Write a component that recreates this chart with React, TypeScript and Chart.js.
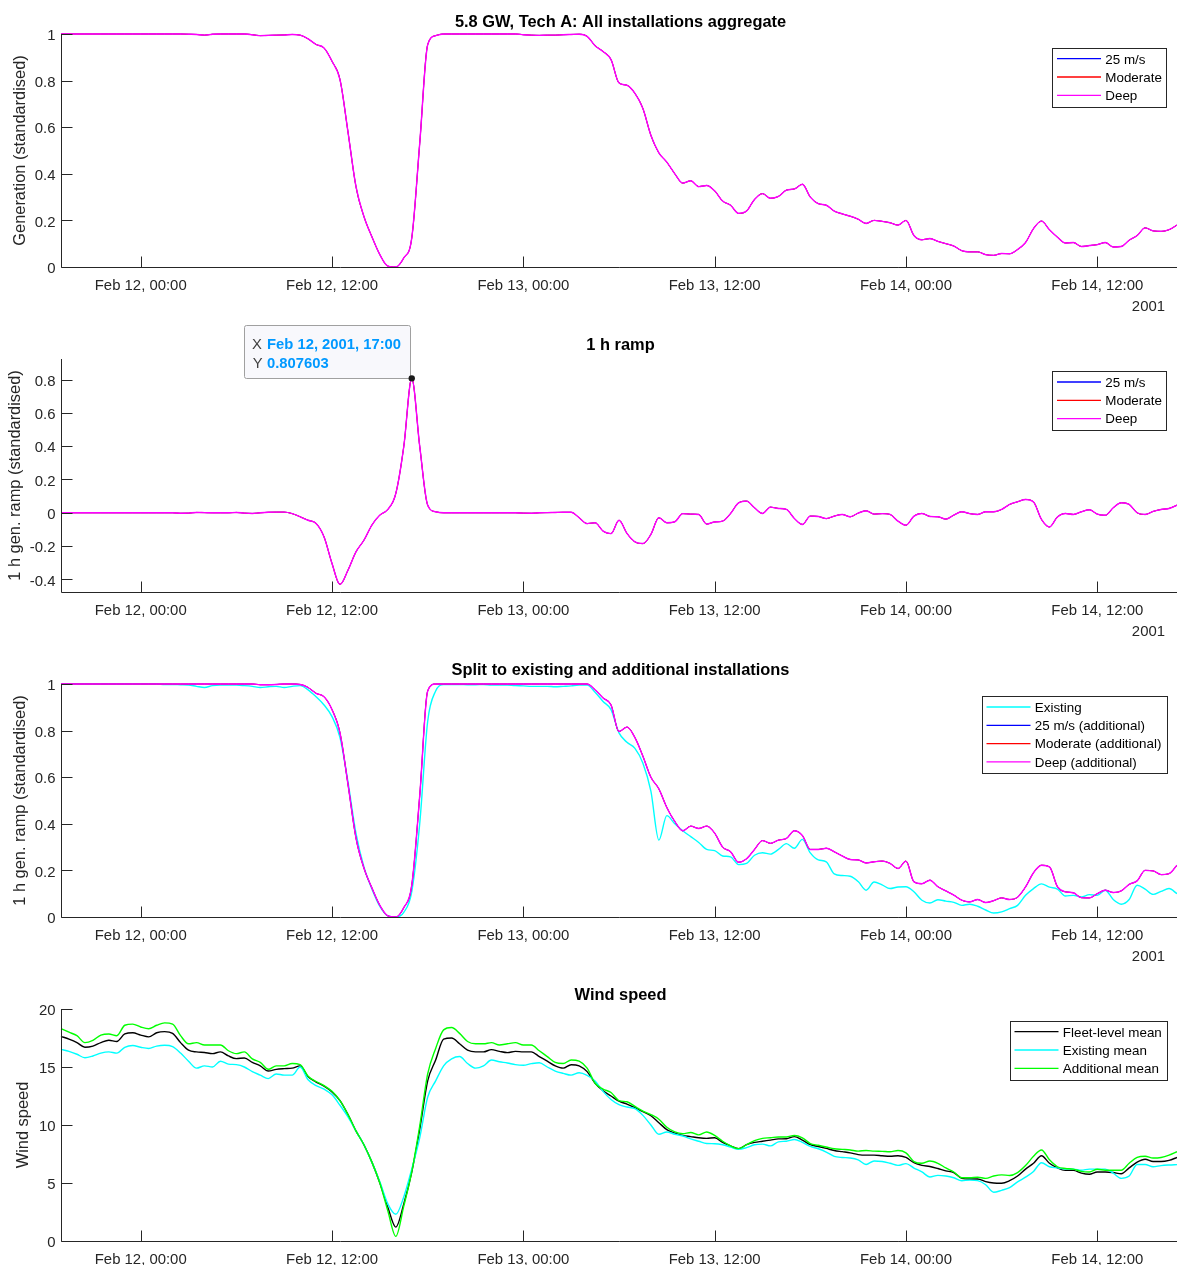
import React, { useEffect, useRef } from "react";
import { Chart, registerables } from "chart.js";

Chart.register(...registerables);

// ---- time base: half-hourly samples from Feb 11, 2001 19:00 ----
const START_UTC = Date.UTC(2001, 1, 11, 19, 0);
const STEP_HOURS = 0.5;
const X_MAX_HOURS = 70;
const X_TICK_HOURS = [5, 17, 29, 41, 53, 65];
const MONTHS = ["Jan", "Feb", "Mar", "Apr", "May", "Jun", "Jul", "Aug", "Sep", "Oct", "Nov", "Dec"];

// ---- standardised generation, all installations (the three scenarios coincide) ----
const genAggregate = [
  1, 1, 1, 1, 1, 1, 1, 1, 1, 1,
  1, 1, 1, 1, 1, 1, 0.999, 0.998, 0.995, 0.999,
  1, 1, 1, 1, 0.997, 0.993, 0.994, 0.995, 0.996, 0.998,
  0.995, 0.979, 0.955, 0.94, 0.883, 0.804, 0.58, 0.346, 0.217, 0.13,
  0.053, 0.004, 0, 0.039, 0.124, 0.53, 0.954, 0.993, 1, 1,
  1, 1, 1, 1, 1, 1, 1, 1, 0.997, 0.995,
  0.994, 0.995, 0.995, 0.997, 0.998, 0.999, 0.99, 0.95, 0.925, 0.89,
  0.79, 0.78, 0.745, 0.68, 0.565, 0.49, 0.45, 0.4, 0.36, 0.37,
  0.345, 0.35, 0.327, 0.283, 0.265, 0.23, 0.24, 0.29, 0.315, 0.295,
  0.303, 0.33, 0.335, 0.355, 0.3, 0.272, 0.265, 0.24, 0.228, 0.218,
  0.205, 0.187, 0.2, 0.196, 0.19, 0.18, 0.2, 0.135, 0.117, 0.122,
  0.11, 0.1, 0.09, 0.07, 0.065, 0.065, 0.053, 0.05, 0.058, 0.057,
  0.075, 0.105, 0.165, 0.197, 0.16, 0.128, 0.103, 0.105, 0.088, 0.092,
  0.096, 0.105, 0.086, 0.088, 0.115, 0.135, 0.168, 0.155, 0.153, 0.16,
  0.18,
];

// ---- 1 h generation ramp (standardised) ----
const rampAggregate = [
  0, 0, 0, 0, 0, 0, 0, 0, 0, 0,
  0, 0, 0, 0, 0, -0.003, -0.002, 0.002, 0.001, 0,
  0, 0, 0.002, -0.002, -0.004, 0, 0.003, 0.004, 0.004, -0.005,
  -0.024, -0.045, -0.064, -0.145, -0.305, -0.43, -0.345, -0.235, -0.165, -0.074,
  -0.014, 0.02, 0.116, 0.398, 0.807603, 0.4, 0.046, 0.006, 0, 0,
  0, 0, 0, 0, 0, 0, 0, 0, -0.002, -0.003,
  0, 0.001, 0.002, 0.003, 0.003, -0.03, -0.065, -0.06, -0.11, -0.125,
  -0.045, -0.124, -0.175, -0.185, -0.13, -0.03, -0.06, -0.054, -0.005, -0.008,
  -0.01, -0.068, -0.055, -0.05, -0.004, 0.06, 0.07, 0.03, -0.004, 0.034,
  0.026, 0.02, -0.034, -0.07, -0.02, -0.022, -0.035, -0.02, -0.01, -0.024,
  -0.002, 0.012, -0.008, -0.005, -0.01, -0.05, -0.075, -0.02, -0.004, -0.022,
  -0.024, -0.038, -0.014, 0.006, -0.005, -0.01, 0.006, 0.006, 0.02, 0.05,
  0.066, 0.08, 0.065, -0.04, -0.085, -0.025, -0.004, -0.01, 0.006, 0.018,
  -0.008, -0.015, 0.03, 0.06, 0.05, 0, -0.01, 0.008, 0.02, 0.026,
  0.046,
];

// ---- generation split: existing fleet ----
const genExisting = [
  1, 1, 1, 1, 1, 1, 1, 1, 1, 1,
  1, 1, 1, 0.998, 0.998, 0.997, 0.996, 0.99, 0.985, 0.993,
  0.995, 0.995, 0.995, 0.993, 0.99, 0.985, 0.988, 0.99, 0.985, 0.99,
  0.993, 0.975, 0.945, 0.91, 0.86, 0.77, 0.58, 0.36, 0.215, 0.12,
  0.045, 0.005, 0, 0.02, 0.108, 0.4, 0.84, 0.97, 0.998, 0.998,
  0.998, 0.997, 0.997, 0.998, 0.995, 0.996, 0.995, 0.993, 0.992, 0.99,
  0.99, 0.99, 0.988, 0.99, 0.992, 0.995, 0.995, 0.965, 0.925, 0.89,
  0.79, 0.75, 0.724, 0.66, 0.54, 0.33, 0.435, 0.4, 0.37, 0.345,
  0.32, 0.29, 0.285, 0.262, 0.258, 0.225, 0.23, 0.265, 0.276, 0.27,
  0.29, 0.315, 0.295, 0.333, 0.275, 0.245, 0.237, 0.185, 0.178, 0.175,
  0.152, 0.115, 0.15, 0.138, 0.122, 0.129, 0.13, 0.108, 0.072, 0.06,
  0.074, 0.068, 0.063, 0.05, 0.055, 0.046, 0.03, 0.017, 0.022, 0.036,
  0.05, 0.093, 0.122, 0.142, 0.128, 0.12, 0.09, 0.093, 0.086, 0.096,
  0.093, 0.115, 0.075, 0.055, 0.075, 0.136, 0.12, 0.097, 0.11, 0.122,
  0.1,
];

// ---- generation split: additional installations (scenarios coincide) ----
const genAdditional = [
  1, 1, 1, 1, 1, 1, 1, 1, 1, 1,
  1, 1, 1, 1, 1, 1, 1, 1, 1, 1,
  1, 1, 1, 1, 1, 0.997, 0.997, 0.998, 1, 1,
  0.998, 0.985, 0.96, 0.945, 0.89, 0.79, 0.57, 0.34, 0.21, 0.125,
  0.05, 0.005, 0, 0.04, 0.136, 0.52, 0.97, 1, 1, 1,
  1, 1, 1, 1, 1, 1, 1, 1, 1, 1,
  1, 1, 1, 1, 1, 1, 1, 0.975, 0.94, 0.91,
  0.796, 0.815, 0.77, 0.69, 0.6, 0.55, 0.47, 0.41, 0.37, 0.39,
  0.38, 0.39, 0.36, 0.3, 0.28, 0.235, 0.25, 0.29, 0.328, 0.316,
  0.33, 0.337, 0.37, 0.35, 0.29, 0.29, 0.295, 0.28, 0.262, 0.247,
  0.245, 0.232, 0.237, 0.24, 0.23, 0.208, 0.24, 0.151, 0.143, 0.158,
  0.13, 0.112, 0.094, 0.072, 0.065, 0.075, 0.062, 0.07, 0.082, 0.075,
  0.085, 0.129, 0.19, 0.222, 0.215, 0.13, 0.108, 0.104, 0.083, 0.082,
  0.1, 0.115, 0.105, 0.112, 0.14, 0.155, 0.2, 0.198, 0.182, 0.186,
  0.222,
];

// ---- wind speed means ----
const windFleet = [
  17.64, 17.4, 17.1, 16.7, 16.8, 17.1, 17.3, 17.2, 17.85, 17.95,
  17.75, 17.6, 17.95, 18.05, 17.9, 17.1, 16.45, 16.3, 16.25, 16.15,
  16.3, 15.95, 15.72, 15.78, 15.4, 15.1, 14.65, 14.8, 14.86, 14.9,
  15.1, 14.15, 13.7, 13.35, 12.85, 12.1, 10.9, 9.5, 8.3, 6.8,
  5.0, 2.9, 1.2, 3.2, 5.95, 9.6, 13.8, 15.6, 17.4, 17.5,
  17.0, 16.45, 16.3, 16.3, 16.5, 16.35, 16.24, 16.35, 16.3, 16.3,
  15.9, 15.5, 15.1, 14.9, 15.2, 15.1, 14.6, 13.6, 12.95, 12.5,
  12.05, 11.8, 11.5, 11.15, 10.8, 10.2, 9.6, 9.3, 9.1, 9.0,
  8.9, 8.85, 8.9, 8.5, 8.2, 7.96, 8.3, 8.5, 8.6, 8.7,
  8.8, 8.82, 9.0, 8.7, 8.3, 8.15, 7.98, 7.8, 7.7, 7.6,
  7.45, 7.4, 7.4, 7.35, 7.3, 7.35, 7.2, 6.75, 6.52, 6.42,
  6.25, 6.05, 5.9, 5.4, 5.35, 5.35, 5.12, 5.0, 4.98, 5.2,
  5.6, 6.2, 6.7, 7.35, 6.7, 6.3, 6.09, 6.09, 5.85, 5.75,
  5.95, 5.95, 5.9, 5.8, 6.3, 6.8, 7.05, 6.85, 6.85, 6.95,
  7.2,
];

const windExisting = [
  16.52, 16.35, 16.1, 15.8, 15.95, 16.2, 16.3, 16.2, 16.7, 16.85,
  16.7, 16.6, 16.8, 16.87, 16.75, 16.2, 15.5, 14.9, 15.1, 15.0,
  15.5, 15.25, 15.2, 15.0, 14.6, 14.3, 14.0, 14.4, 14.3, 14.3,
  15.0, 13.9, 13.4, 13.1, 12.6, 11.7, 10.7, 9.5, 8.3, 6.8,
  5.1, 3.2, 2.3, 3.8, 6.2, 8.9, 12.4, 13.8, 15.1, 15.7,
  15.9, 15.3, 14.9, 15.1, 15.6, 15.45, 15.35, 15.2, 15.15, 15.29,
  15.37, 15.0, 14.65, 14.45, 14.3, 14.5, 14.28, 13.8, 12.9, 12.2,
  11.75, 11.55, 11.41, 10.83, 10.0, 9.2, 9.4, 9.2, 9.05, 8.8,
  8.6, 8.4, 8.39, 8.3, 8.1, 7.9, 8.05, 8.3, 8.35, 8.2,
  8.55, 8.6, 8.75, 8.5, 8.15, 7.95, 7.67, 7.3, 7.2, 7.16,
  7.0, 6.6, 6.9, 6.85, 6.7, 6.52, 6.67, 6.29, 5.95, 5.52,
  5.66, 5.6, 5.45, 5.2, 5.25, 5.2, 4.85, 4.2, 4.37, 4.6,
  5.1, 5.5, 6.0, 6.75, 6.4, 6.3, 6.2, 6.2, 6.1, 6.2,
  6.2, 6.2, 5.85, 5.4, 5.6, 6.6, 6.6, 6.4, 6.5, 6.55,
  6.58,
];

const windAdditional = [
  18.3, 18.0, 17.7, 17.1, 17.3, 17.75, 17.85, 17.7, 18.6, 18.7,
  18.45, 18.3, 18.6, 18.8, 18.7, 17.7, 17.0, 17.1, 16.9, 16.9,
  16.9, 16.4, 16.15, 16.3, 15.7, 15.4, 14.8, 15.1, 15.1, 15.3,
  15.2, 14.2, 13.75, 13.4, 12.9, 12.1, 10.9, 9.5, 8.3, 6.8,
  5.0, 2.6, 0.4, 3.0, 5.95, 9.9, 14.4, 16.6, 18.2, 18.4,
  17.9, 17.2, 17.0, 17.0, 17.1, 16.9, 17.0, 17.1, 16.9, 16.9,
  16.4, 15.9, 15.4, 15.3, 15.6, 15.5, 14.9, 13.6, 13.1, 12.8,
  12.1, 12.0, 11.6, 11.2, 10.9, 10.5, 9.8, 9.4, 9.25, 9.35,
  9.15, 9.4, 9.1, 8.6, 8.2, 7.96, 8.3, 8.65, 8.85, 8.9,
  8.97, 8.97, 9.1, 8.9, 8.4, 8.25, 8.1, 7.95, 7.9, 7.85,
  7.75, 7.8, 7.75, 7.73, 7.7, 7.8, 7.6, 6.85, 6.7, 6.9,
  6.7, 6.3, 5.95, 5.45, 5.45, 5.5, 5.4, 5.6, 5.7, 5.65,
  5.9, 6.5, 7.3, 7.85, 7.0, 6.4, 6.25, 6.2, 6.0, 5.95,
  6.18, 6.1, 6.1, 6.1, 6.7, 7.2, 7.3, 7.15, 7.2, 7.4,
  7.7,
];

const hours = genAggregate.map((_, i) => i * STEP_HOURS);

// ---- styling ----
const FONT = '"Liberation Sans", Arial, Helvetica, sans-serif';
const AXIS_COLOR = "#262626";
const TICK_SIZE = 14.9;
const LABEL_SIZE = 16.4;
const TITLE_SIZE = 16.4;
const LEGEND_SIZE = 13.4;
const DATATIP_SIZE = 14.8;
const TICK_LEN = 11;
const AXIS_LEFT = 61;
const PAGE_WIDTH = 1177;
const PAGE_HEIGHT = 1265;
const TITLE_X = 620.5;
const LINE_WIDTH = 1.4;
const HIDDEN_LINE_WIDTH = 0.9;

const BLUE = "#0000ff";
const RED = "#ff0000";
const MAGENTA = "#ff00ff";
const CYAN = "#00ffff";
const GREEN = "#00ff00";
const BLACK = "#000000";

interface SeriesSpec {
  label: string;
  color: string;
  values: number[];
  underlay?: boolean; // sits exactly beneath another series
}

interface PanelSpec {
  key: string;
  canvasTop: number;
  canvasHeight: number;
  areaTop: number;
  areaBottom: number;
  yMin: number;
  yMax: number;
  yTicks: number[];
  title: string;
  titleBaseline: number;
  yLabel: string;
  yLabelX: number;
  series: SeriesSpec[]; // drawn bottom to top, also legend order
  legendLeft: number;
  legendTop: number;
  legendWidth: number;
  showYear: boolean;
  datatip?: { seriesIndex: number; sampleIndex: number };
}

const PANELS: PanelSpec[] = [
  {
    key: "generation",
    canvasTop: 0,
    canvasHeight: 320,
    areaTop: 34,
    areaBottom: 267,
    yMin: 0,
    yMax: 1,
    yTicks: [0, 0.2, 0.4, 0.6, 0.8, 1],
    title: "5.8 GW, Tech A: All installations aggregate",
    titleBaseline: 27.3,
    yLabel: "Generation (standardised)",
    yLabelX: 24.5,
    series: [
      { label: "25 m/s", color: BLUE, values: genAggregate, underlay: true },
      { label: "Moderate", color: RED, values: genAggregate, underlay: true },
      { label: "Deep", color: MAGENTA, values: genAggregate },
    ],
    legendLeft: 1052,
    legendTop: 47.7,
    legendWidth: 114,
    showYear: true,
  },
  {
    key: "ramp",
    canvasTop: 320,
    canvasHeight: 325,
    areaTop: 359,
    areaBottom: 592,
    yMin: -0.476,
    yMax: 0.924,
    yTicks: [-0.4, -0.2, 0, 0.2, 0.4, 0.6, 0.8],
    title: "1 h ramp",
    titleBaseline: 350.1,
    yLabel: "1 h gen. ramp (standardised)",
    yLabelX: 20,
    series: [
      { label: "25 m/s", color: BLUE, values: rampAggregate, underlay: true },
      { label: "Moderate", color: RED, values: rampAggregate, underlay: true },
      { label: "Deep", color: MAGENTA, values: rampAggregate },
    ],
    legendLeft: 1052,
    legendTop: 371,
    legendWidth: 114,
    showYear: true,
    datatip: { seriesIndex: 2, sampleIndex: 44 },
  },
  {
    key: "split",
    canvasTop: 645,
    canvasHeight: 325,
    areaTop: 684,
    areaBottom: 917,
    yMin: 0,
    yMax: 1,
    yTicks: [0, 0.2, 0.4, 0.6, 0.8, 1],
    title: "Split to existing and additional installations",
    titleBaseline: 675,
    yLabel: "1 h gen. ramp (standardised)",
    yLabelX: 24.5,
    series: [
      { label: "Existing", color: CYAN, values: genExisting },
      { label: "25 m/s (additional)", color: BLUE, values: genAdditional, underlay: true },
      { label: "Moderate (additional)", color: RED, values: genAdditional, underlay: true },
      { label: "Deep (additional)", color: MAGENTA, values: genAdditional },
    ],
    legendLeft: 981.5,
    legendTop: 696,
    legendWidth: 184.5,
    showYear: true,
  },
  {
    key: "wind",
    canvasTop: 970,
    canvasHeight: 295,
    areaTop: 1009,
    areaBottom: 1241,
    yMin: 0,
    yMax: 20,
    yTicks: [0, 5, 10, 15, 20],
    title: "Wind speed",
    titleBaseline: 1000,
    yLabel: "Wind speed",
    yLabelX: 28.2,
    series: [
      { label: "Fleet-level mean", color: BLACK, values: windFleet },
      { label: "Existing mean", color: CYAN, values: windExisting },
      { label: "Additional mean", color: GREEN, values: windAdditional },
    ],
    legendLeft: 1009.5,
    legendTop: 1020.7,
    legendWidth: 156.5,
    showYear: false,
  },
];

// ---- formatting helpers ----
const pad2 = (n: number) => (n < 10 ? "0" + n : String(n));

function dateAt(h: number): Date {
  return new Date(START_UTC + h * 3600 * 1000);
}

function formatTickDate(h: number): string {
  const d = dateAt(h);
  return `${MONTHS[d.getUTCMonth()]} ${d.getUTCDate()}, ${pad2(d.getUTCHours())}:${pad2(d.getUTCMinutes())}`;
}

function formatFullDate(h: number): string {
  const d = dateAt(h);
  return `${MONTHS[d.getUTCMonth()]} ${d.getUTCDate()}, ${d.getUTCFullYear()}, ${pad2(d.getUTCHours())}:${pad2(
    d.getUTCMinutes()
  )}`;
}

function formatValueTick(v: number): string {
  return String(Number(v.toFixed(2)));
}

function font(size: number, bold = false) {
  return `${bold ? "bold " : ""}${size}px ${FONT}`;
}

// Draws the axes frame, inward ticks, labels, title, legend and data tip in a MATLAB-like style.
function framePlugin(p: PanelSpec) {
  return {
    id: "axesFrame",
    afterDraw(chart: any) {
      const ctx: CanvasRenderingContext2D = chart.ctx;
      const xs = chart.scales.x;
      const ys = chart.scales.y;
      const area = chart.chartArea;
      const off = p.canvasTop;
      ctx.save();

      // axis lines and inward ticks
      const ax = Math.round(area.left) + 0.5;
      const ay = Math.round(area.bottom) + 0.5;
      ctx.strokeStyle = AXIS_COLOR;
      ctx.lineWidth = 1;
      ctx.beginPath();
      ctx.moveTo(ax, Math.round(area.top));
      ctx.lineTo(ax, ay);
      ctx.lineTo(area.right, ay);
      for (const v of p.yTicks) {
        const py = Math.round(ys.getPixelForValue(v)) + 0.5;
        ctx.moveTo(ax, py);
        ctx.lineTo(ax + TICK_LEN, py);
      }
      for (const h of X_TICK_HOURS) {
        const px = Math.round(xs.getPixelForValue(h)) + 0.5;
        ctx.moveTo(px, ay);
        ctx.lineTo(px, ay - TICK_LEN);
      }
      ctx.stroke();

      // tick labels
      ctx.fillStyle = AXIS_COLOR;
      ctx.font = font(TICK_SIZE);
      ctx.textBaseline = "alphabetic";
      ctx.textAlign = "right";
      for (const v of p.yTicks) {
        const py = ys.getPixelForValue(v);
        ctx.fillText(formatValueTick(v), 55.5, py + 6.2);
      }
      ctx.textAlign = "center";
      for (const h of X_TICK_HOURS) {
        ctx.fillText(formatTickDate(h), xs.getPixelForValue(h), area.bottom + 23);
      }
      if (p.showYear) {
        ctx.textAlign = "right";
        ctx.fillText(String(dateAt(0).getUTCFullYear()), 1165, area.bottom + 43.7);
      }

      // y axis label
      ctx.save();
      ctx.translate(p.yLabelX, (area.top + area.bottom) / 2);
      ctx.rotate(-Math.PI / 2);
      ctx.textAlign = "center";
      ctx.font = font(LABEL_SIZE);
      ctx.fillText(p.yLabel, 0, 0);
      ctx.restore();

      // title
      ctx.fillStyle = "#000000";
      ctx.font = font(TITLE_SIZE, true);
      ctx.textAlign = "center";
      ctx.fillText(p.title, TITLE_X, p.titleBaseline - off);

      // legend
      const n = p.series.length;
      const rowGap = 18.3;
      const bx = p.legendLeft;
      const by = p.legendTop - off;
      const bh = 22 + (n - 1) * rowGap;
      ctx.fillStyle = "#ffffff";
      ctx.fillRect(bx, by, p.legendWidth, bh);
      ctx.strokeStyle = AXIS_COLOR;
      ctx.lineWidth = 1;
      ctx.strokeRect(Math.round(bx) + 0.5, Math.round(by) + 0.5, Math.round(p.legendWidth), Math.round(bh));
      ctx.font = font(LEGEND_SIZE);
      ctx.textAlign = "left";
      p.series.forEach((s, i) => {
        const cy = by + 11 + i * rowGap;
        ctx.strokeStyle = s.color;
        ctx.lineWidth = 1.3;
        ctx.beginPath();
        ctx.moveTo(bx + 5, cy);
        ctx.lineTo(bx + 49, cy);
        ctx.stroke();
        ctx.fillStyle = "#000000";
        ctx.fillText(s.label, bx + 53.3, cy + 4.8);
      });

      // data tip
      if (p.datatip) {
        const s = p.series[p.datatip.seriesIndex];
        const idx = p.datatip.sampleIndex;
        const px = xs.getPixelForValue(hours[idx]);
        const py = ys.getPixelForValue(s.values[idx]);
        const tw = 166;
        const th = 53;
        const tx = Math.round(px - 167.5) + 0.5;
        const ty = Math.round(py - 53.6) + 0.5;
        ctx.beginPath();
        if ((ctx as any).roundRect) (ctx as any).roundRect(tx, ty, tw, th, 2);
        else ctx.rect(tx, ty, tw, th);
        ctx.fillStyle = "#f8f8fc";
        ctx.fill();
        ctx.strokeStyle = "#a0a0a0";
        ctx.lineWidth = 1;
        ctx.stroke();
        ctx.textAlign = "left";
        ctx.font = font(DATATIP_SIZE);
        ctx.fillStyle = "#404040";
        ctx.fillText("X", tx + 7.6, ty + 23.6);
        ctx.fillText("Y", tx + 8.2, ty + 42.6);
        ctx.font = font(DATATIP_SIZE, true);
        ctx.fillStyle = "#0099ff";
        ctx.fillText(formatFullDate(hours[idx]), tx + 22.5, ty + 23.6);
        ctx.fillText(String(s.values[idx]), tx + 22.5, ty + 42.6);
        ctx.beginPath();
        ctx.arc(px, py, 3.2, 0, Math.PI * 2);
        ctx.fillStyle = "#1a1a1a";
        ctx.fill();
      }

      ctx.restore();
    },
  };
}

function Panel({ spec }: { spec: PanelSpec }) {
  const ref = useRef<HTMLCanvasElement | null>(null);

  useEffect(() => {
    const canvas = ref.current;
    if (!canvas) return;
    const n = spec.series.length;
    const chart = new Chart(canvas, {
      type: "line",
      data: {
        datasets: spec.series.map((s, i) => ({
          label: s.label,
          data: hours.map((h, k) => ({ x: h, y: s.values[k] })),
          borderColor: s.color,
          backgroundColor: s.color,
          borderWidth: s.underlay ? HIDDEN_LINE_WIDTH : LINE_WIDTH,
          borderJoinStyle: "round",
          pointRadius: 0,
          cubicInterpolationMode: "monotone",
          fill: false,
          clip: false,
          order: n - 1 - i,
        })),
      },
      options: {
        animation: false,
        responsive: false,
        maintainAspectRatio: false,
        devicePixelRatio: 1,
        events: [],
        layout: { padding: { top: spec.areaTop - spec.canvasTop, left: 0, right: 0, bottom: 0 } },
        plugins: {
          legend: { display: false },
          tooltip: { enabled: false },
          title: { display: false },
        },
        scales: {
          x: {
            type: "linear",
            min: 0,
            max: X_MAX_HOURS,
            grid: { display: false },
            border: { display: false },
            ticks: { display: false },
            afterFit: (scale: any) => {
              scale.height = spec.canvasHeight - (spec.areaBottom - spec.canvasTop);
            },
          },
          y: {
            type: "linear",
            min: spec.yMin,
            max: spec.yMax,
            grid: { display: false },
            border: { display: false },
            ticks: { display: false },
            afterFit: (scale: any) => {
              scale.width = AXIS_LEFT;
            },
          },
        },
      } as any,
      plugins: [framePlugin(spec)],
    } as any);
    return () => chart.destroy();
  }, [spec]);

  return (
    <canvas
      ref={ref}
      width={PAGE_WIDTH}
      height={spec.canvasHeight}
      style={{
        position: "absolute",
        left: 0,
        top: spec.canvasTop,
        width: PAGE_WIDTH,
        height: spec.canvasHeight,
        display: "block",
      }}
    />
  );
}

export default function App() {
  return (
    <div
      style={{
        position: "absolute",
        left: 0,
        top: 0,
        width: PAGE_WIDTH,
        height: PAGE_HEIGHT,
        background: "#ffffff",
        overflow: "hidden",
      }}
    >
      {PANELS.map((p) => (
        <Panel key={p.key} spec={p} />
      ))}
    </div>
  );
}
